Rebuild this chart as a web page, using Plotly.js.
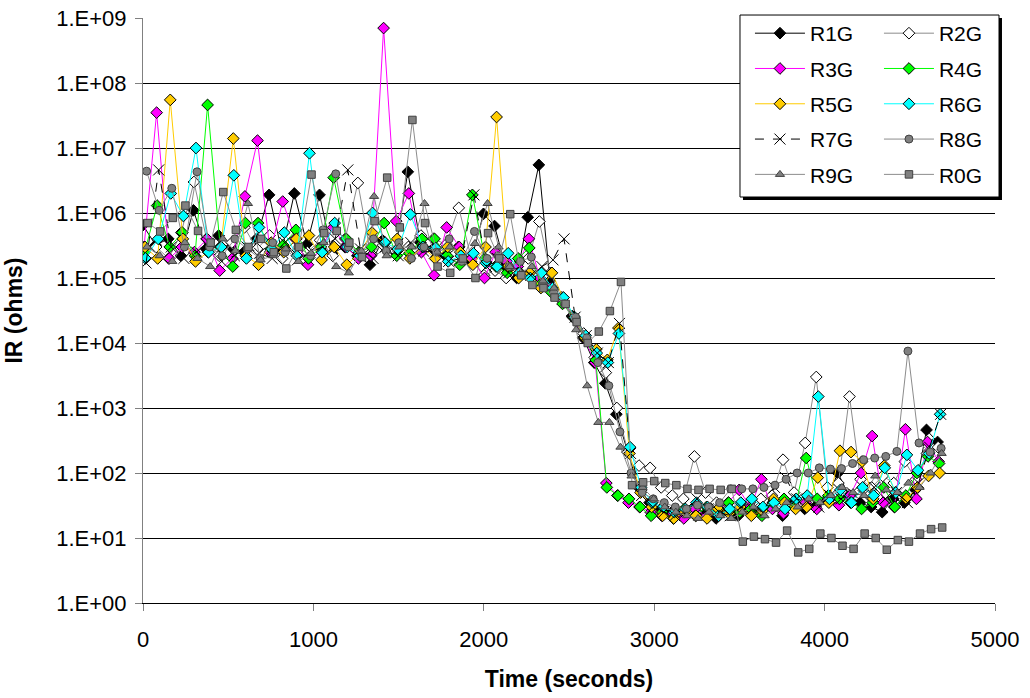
<!DOCTYPE html>
<html>
<head>
<meta charset="utf-8">
<script src="https://cdn.plot.ly/plotly-3.0.1.min.js"></script>
<style>html,body{margin:0;padding:0;background:#fff;}#chart{width:1030px;height:698px;}</style>
</head>
<body>
<div id="chart"></div>
<script>
// Scan times (seconds) of the measurement cycles
const scanTime = [0,74,148,222,296,370,444,518,592,666,740,814,888,962,1036,1110,1184,1258,1332,1406,1480,1554,1628,1702,1776,1850,1924,1998,
  2063,2128,2193,2258,2323,2388,2453,2518,2583,2648,2713,2778,2843,2908,2973,3038,3103,3168,3233,3298,3363,3428,3493,3558,3623,3688,3753,3818,3883,3948,4013,4078,4143,4208,4273,4338,4403,4468,4533,4598,4663];
// Channel scan delay within each cycle (seconds)
const channelDelay = [0,3,6,9,12,15,18,21,24,27];
const seriesNames = ["R1G","R2G","R3G","R4G","R5G","R6G","R7G","R8G","R9G","R0G"];

const R1G = [6.5e5,3.2e5,4e5,2.2e5,1.1e6,2.8e5,4.5e5,3e5,2.5e5,4e5,1.9e6,2.6e5,2e6,3.3e5,1.9e6,2.4e5,3e5,2.2e5,1.6e5,3.8e5,2.5e5,4.3e6,3.5e5,
  2.8e5,2.2e5,3e5,1.8e5,9.7e5, 6.3e5,1.5e5,1e5,8.6e5,5.5e6, 9e4,5e4,2.6e4,1.2e4,5e3,2.4e3,800,210,
  60,35,28,25,22,30,24,20,26,22,28,25,30,22,35,28,31,40,100,45,35,30,25,40,35,55,460,300];
const R2G = [2.5e5,3e5,2e5,5e5,3e6,4e5,2.2e5,3.5e5,6e5,2.8e5,4.5e5,2e5,3e5,2.5e5,3.8e5,2.2e5,4e5,2.9e6,2.4e5,3.2e5,2.6e5,3e5,4.5e5,
  4e5,3.3e5,1.2e6,2e5,1.1e5, 1.3e5,1e5,1.5e5,2e5,7.4e5, 1.2e5,5e4,2.5e4,1.4e4,6e3,3.5e3,1e3,210,
  130,120,60,45,40,180,50,35,30,28,35,40,45,160,50,290,3000,60,70,1500,80,60,90,70,150,80,200,250];
const R3G = [3e5,3.5e7,2e5,3e5,2.5e5,4e5,1.3e5,2e5,1.8e6,1.3e7,2.5e5,1.5e6,4e5,1.6e5,2.8e5,6e5,3e5,2e5,2.2e5,7e8,7.5e5,2e6,2.5e5,
  1.1e5,6e5,3e5,2e5,1e5, 2.5e5,1.8e5,1.5e5,4e5,1e5, 7e4,4.5e4,2.5e4,1.2e4,5e3,70,45,35,
  30,25,22,24,20,28,22,25,35,55,30,80,28,24,30,35,28,40,32,45,100,370,35,30,470,40,300,150];
const R4G = [2.5e5,1.3e6,3e5,5e5,2.2e5,4.6e7,3e5,1.5e5,7e5,7e5,2.8e5,3.2e5,5.5e5,2e5,3e5,3.5e6,4e5,2.5e5,3e5,7e5,2.2e5,2.4e5,4e5,
  4e5,2.2e5,1.6e5,1.9e6,2e5, 1.5e5,1.2e5,2e5,2.9e5,8e4, 6e4,4e4,2.5e4,1.2e4,5.5e3,60,45,40,
  30,22,25,20,28,22,30,24,35,25,28,22,35,40,30,170,40,45,40,35,28,35,60,30,45,100,180,140];
const R5G = [3e5,2e5,5.5e7,4e5,1.8e5,2.5e5,3e5,1.4e7,2.2e5,1.6e5,3.5e5,2.5e5,4e5,4.5e5,1.9e5,3e5,1.6e5,2.4e5,5e5,3.5e5,4e5,2e5,3e5,
  2e5,3e5,2.5e5,1.6e5,3e5, 3e7,1.5e5,1e5,1.2e5,7e4, 1.2e5,5e4,2.5e4,1.2e4,8e3,5.5e3,1.7e4,200,
  50,30,22,20,25,22,20,28,24,30,22,26,40,35,28,30,85,35,220,210,150,40,130,50,40,60,90,100];
const R6G = [2e5,4e5,2e6,9e5,1e7,2.5e5,3e5,3.8e6,2e5,6e5,2.8e5,5e5,2.2e5,8.3e6,2.5e5,7e5,3e5,2.2e5,1e6,3.5e5,2.8e5,9.5e5,3e5,
  2.9e5,1.8e5,2.2e5,2.4e5,1.7e5, 1.5e5,2.4e5,1.2e5,1e5,1.2e5, 7e4,5e4,2.5e4,1.3e4,7e3,5e3,1.4e4,250,
  60,35,30,25,28,35,30,22,28,35,40,30,35,28,40,45,1500,40,55,35,60,45,120,50,190,110,200,800];
const R7G = [1.7e5,4.6e6,3e5,2e5,2.5e5,3.5e5,1.8e5,2.2e5,3e5,2.4e5,2e5,3.5e5,1.9e5,2.5e5,3e5,4e5,4.6e6,2.8e5,2e5,3e5,2.2e5,3.5e5,2.6e5,
  2.5e5,1.8e5,2e5,1.9e6,1.5e5, 2e5,1.2e5,1.5e5,1.1e5,1.5e5, 1.9e5,4e5,2.5e4,1.3e4,7e3,5e3,2e4,200,
  45,30,25,22,25,40,28,25,22,30,28,25,60,85,40,35,30,45,40,50,45,60,40,50,35,70,250,800];
const R8G = [4.4e6,1.1e6,2.4e6,3e5,4.3e6,3e5,2.2e5,4e5,2.8e5,2e5,3.5e5,2.5e5,3e5,2.2e5,5.5e5,4e6,3e5,2.5e5,4e5,2.6e5,3.5e5,2e5,3e5,
  2.5e5,4e5,1.8e5,5.2e5,2e5, 2.2e5,1.5e5,1.8e5,2.1e5,8e4, 6e4,4e4,2.5e4,1.2e4,5e3,2.2e3,430,100,
  50,40,35,30,28,32,30,35,57,57,57,60,65,80,100,100,120,115,117,140,160,170,180,215,7500,290,210,240];
const R9G = [3e5,2.2e5,1.8e5,3.5e5,2e5,1.5e5,4e5,2.6e5,1.4e6,1.9e5,2.2e5,2.8e5,1.8e5,2.4e5,3.5e5,1.5e5,1.2e5,2.6e5,1.8e6,2.2e5,3e5,3e5,1.4e6,
  2.5e5,3e5,2e5,3.4e5,1.4e6, 3e5,1.5e5,1.2e5,1.5e5,9e4, 7e4,4e4,1.6e4,2.2e3,600,600,250,90,
  60,40,30,25,22,20,25,22,20,25,30,22,28,35,30,40,35,45,60,50,45,90,55,50,70,60,100,200];
const R0G = [7e5,5.2e5,8.4e5,1.3e6,5.3e5,3.5e5,2.1e6,5.5e5,3e5,4e5,2.5e5,1.4e5,3e5,3.9e6,4.9e5,5.3e5,3.5e5,2.1e5,7.5e5,3.5e6,6e5,2.7e7,7e5,
  1.5e5,1.2e5,2e5,1e5,4.9e5, 2e5,9.6e5,1.1e5,7.8e4,7e4, 5e4,4e4,2.1e4,1e4,1.5e4,3.1e4,8.7e4,65,
  72,75,70,65,57,55,57,55,57,8.8,10.5,9.6,8.5,13,6,6.8,11.7,10,7.6,6.8,11.7,10,6.6,9.3,8.8,11.7,13.7,14.5];

const yTickVals = [1,10,100,1e3,1e4,1e5,1e6,1e7,1e8,1e9];
const yTickText = ["1.E+00","1.E+01","1.E+02","1.E+03","1.E+04","1.E+05","1.E+06","1.E+07","1.E+08","1.E+09"];

const seriesValues = [R1G,R2G,R3G,R4G,R5G,R6G,R7G,R8G,R9G,R0G];
const FONT = "Liberation Sans, Arial, sans-serif";

const styles = [
  {line:{color:"#000000",width:1}, marker:{symbol:"diamond",size:9,color:"#000000",line:{color:"#000000",width:1}}},
  {line:{color:"#8c8c8c",width:1}, marker:{symbol:"diamond",size:9,color:"#ffffff",line:{color:"#000000",width:1}}},
  {line:{color:"#ff00ff",width:1}, marker:{symbol:"diamond",size:9,color:"#ff00ff",line:{color:"#000000",width:1}}},
  {line:{color:"#00ff00",width:1}, marker:{symbol:"diamond",size:9,color:"#00ff00",line:{color:"#000000",width:1}}},
  {line:{color:"#ffcc00",width:1}, marker:{symbol:"diamond",size:9,color:"#ffcc00",line:{color:"#000000",width:1}}},
  {line:{color:"#00ffff",width:1}, marker:{symbol:"diamond",size:9,color:"#00ffff",line:{color:"#000000",width:1}}},
  {line:{color:"#000000",width:1,dash:"dash"}, marker:{symbol:"x-thin",size:11,color:"#000000",line:{color:"#000000",width:1}}},
  {line:{color:"#8c8c8c",width:1}, marker:{symbol:"circle",size:8,color:"#808080",line:{color:"#404040",width:1}}},
  {line:{color:"#8c8c8c",width:1}, marker:{symbol:"triangle-up",size:8,color:"#808080",line:{color:"#404040",width:1}}},
  {line:{color:"#8c8c8c",width:1}, marker:{symbol:"square",size:7.5,color:"#808080",line:{color:"#404040",width:1}}}
];

const traces = seriesValues.map((vals, k) => ({
  type: "scatter",
  mode: "lines+markers",
  name: seriesNames[k],
  x: scanTime.map(t => t + channelDelay[k]),
  y: vals,
  line: styles[k].line,
  marker: styles[k].marker,
  legend: (k % 2 === 0) ? "legend" : "legend2",
  legendgroup: "g" + k,
  hoverinfo: "skip"
}));

const legendCommon = {
  yanchor: "top", xanchor: "left", y: 1.0085,
  bgcolor: "rgba(0,0,0,0)", borderwidth: 0,
  font: {family: FONT, size: 21, color: "#000"},
  itemwidth: 50, tracegroupgap: 5, orientation: "v"
};

const layout = {
  width: 1030, height: 698,
  margin: {l: 143, r: 35, t: 18, b: 95},
  paper_bgcolor: "#ffffff", plot_bgcolor: "#ffffff",
  font: {family: FONT, color: "#000"},
  showlegend: true,
  legend: Object.assign({}, legendCommon, {x: 0.7124}),
  legend2: Object.assign({}, legendCommon, {x: 0.8638}),
  xaxis: {
    range: [0, 5000], dtick: 1000, tick0: 0,
    showgrid: false, zeroline: false,
    showline: true, linecolor: "#000", linewidth: 1,
    ticks: "outside", ticklen: 7, tickcolor: "#808080",
    tickfont: {family: FONT, size: 22, color: "#000"},
    ticklabelstandoff: 10,
    title: {text: "<b>Time (seconds)</b>", font: {family: FONT, size: 23, color: "#000"}, standoff: 19}
  },
  yaxis: {
    type: "log", range: [0, 9],
    tickvals: yTickVals, ticktext: yTickText,
    showgrid: true, gridcolor: "#000", gridwidth: 1,
    showline: true, linecolor: "#808080", linewidth: 1,
    ticks: "outside", ticklen: 7, tickcolor: "#808080",
    tickfont: {family: FONT, size: 22, color: "#000"},
    ticklabelstandoff: 4,
    title: {text: "<b>IR (ohms)</b>", font: {family: FONT, size: 23, color: "#000"}, standoff: 27}
  },
  shapes: [
    {type: "rect", xref: "paper", yref: "paper", x0: 0.7042, x1: 1.0082, y0: 0.6889, y1: 1.0, fillcolor: "#000", line: {width: 0}, layer: "above"},
    {type: "rect", xref: "paper", yref: "paper", x0: 0.7007, x1: 1.0047, y0: 0.6940, y1: 1.0051, fillcolor: "#fff", line: {color: "#000", width: 1}, layer: "above"}
  ]
};

Plotly.newPlot("chart", traces, layout, {staticPlot: true, displayModeBar: false});
</script>
</body>
</html>
